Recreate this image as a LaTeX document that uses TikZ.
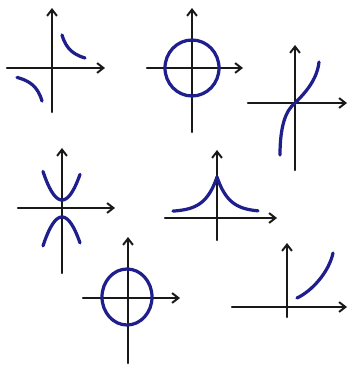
\documentclass[tikz,border=0pt]{standalone}
\usepackage{tikz}
\usetikzlibrary{arrows.meta}
\usetikzlibrary{calc}
\definecolor{ink}{RGB}{25,25,25}
\definecolor{blue}{RGB}{30,30,140}

\tikzset{
  axis/.style={draw=ink, line width=1.6pt, line cap=round,
               -{Straight Barb[length=4.5pt,width=7pt,line width=1.4pt]}},
  curve/.style={draw=blue, line width=2.3pt, line cap=round},
}

\begin{document}
\begin{tikzpicture}[x=0.25mm, y=0.25mm]

\useasboundingbox (0,0) rectangle (350,369);

%---------------------------------------
% Shared functions
%---------------------------------------
\pgfmathdeclarefunction{Hyp}{1}{\pgfmathparse{330/#1}}            % 1/x
\pgfmathdeclarefunction{Peak}{1}{\pgfmathparse{6+35*exp(-abs(#1)/12)}} % e^{-|x|}

%====================================================
% Row 1, left: hyperbola
%====================================================
\begin{scope}[shift={(52,301)}]
  \draw[axis] (-45,0) -- (53,0);
  \draw[axis] (0,-44) -- (0,60);
  \draw[curve, domain=10:33, samples=40] plot (\x,{Hyp(\x)});
  \draw[curve, domain=-35:-10, samples=40] plot (\x,{Hyp(\x)});
\end{scope}

%====================================================
% Row 1, middle: circle
%====================================================
\begin{scope}[shift={(192,301)}]
  \draw[axis] (-45,0) -- (51,0);
  \draw[axis] (0,-64) -- (0,60);
  \draw[curve] (0,0) ellipse [x radius=27, y radius=28];
\end{scope}

%====================================================
% Row 1, right: cubic
%====================================================
\begin{scope}[shift={(295,266)}]
  \draw[axis] (-47,0) -- (52,0);
  \draw[axis] (0,-67) -- (0,58);
  \draw[curve] (-15,-52) .. controls (-15,-25) and (-10,-8) .. (0,0)
               .. controls (8,8) and (22,22) .. (24,41);
\end{scope}

%====================================================
% Row 2, left: two parabolas
%====================================================
\begin{scope}[shift={(62,161)}]
  \draw[axis] (-44,0) -- (53,0);
  \draw[axis] (0,-65) -- (0,60);
  \draw[curve, domain=-19:18, samples=40] plot (\x,{8+0.079*\x*\x});
  \draw[curve, domain=-19:18, samples=40] plot (\x,{-9-0.08*\x*\x});
\end{scope}

%====================================================
% Row 2, right: peak
%====================================================
\begin{scope}[shift={(217,151)}]
  \draw[axis] (-52,0) -- (60,0);
  \draw[axis] (0,-22) -- (0,68);
  \draw[curve, domain=-44:0, samples=50] plot (\x,{Peak(\x)});
  \draw[curve, domain=0:41, samples=50] plot (\x,{Peak(\x)});
\end{scope}

%====================================================
% Row 3, left: circle
%====================================================
\begin{scope}[shift={(128,71)}]
  \draw[axis] (-45,0) -- (52,0);
  \draw[axis] (0,-65) -- (0,61);
  \draw[curve] (-1,1) ellipse [x radius=25, y radius=28];
\end{scope}

%====================================================
% Row 3, right: exponential
%====================================================
\begin{scope}[shift={(287,62)}]
  \draw[axis] (-55,0) -- (60,0);
  \draw[axis] (0,-10) -- (0,64);
  \draw[curve] (10,9) .. controls (25,16) and (42,35) .. (46,54);
\end{scope}

\end{tikzpicture}
\end{document}
